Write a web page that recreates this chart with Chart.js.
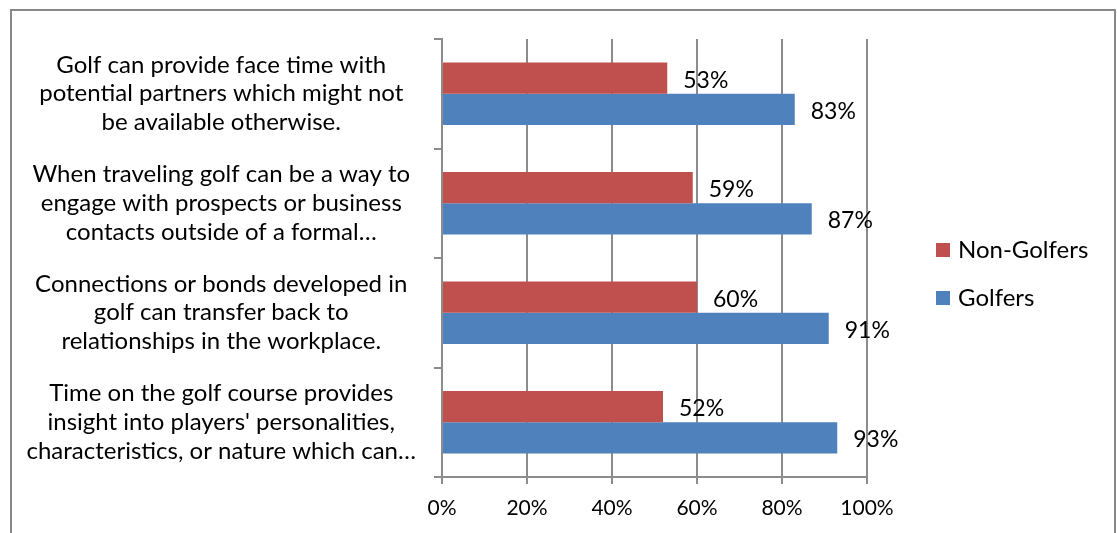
<!DOCTYPE html>
<html>
<head>
<meta charset="utf-8">
<script src="https://cdn.jsdelivr.net/npm/chart.js@4.4.1/dist/chart.umd.min.js"></script>
<style>
  html, body { margin: 0; padding: 0; background: #fff; }
  #wrap { position: relative; width: 1117px; height: 533px; overflow: hidden; }
  #frame { position: absolute; left: 10px; top: 9px; width: 1102px; height: 600px;
           border: 2px solid #888; pointer-events: none; }
</style>
</head>
<body>
<div id="wrap">
  <canvas id="golfChart" width="1117" height="533"></canvas>
  <div id="frame"></div>
</div>
<script>
const categories = [
  ["Golf can provide face time with", "potential partners which might not", "be available otherwise."],
  ["When traveling golf can be a way to", "engage with prospects or business", "contacts outside of a formal\u2026"],
  ["Connections or bonds developed in", "golf can transfer back to", "relationships in the workplace."],
  ["Time on the golf course provides", "insight into players' personalities,", "characteristics, or nature which can\u2026"]
];
const nonGolfers = [53, 59, 60, 52];
const golfers = [83, 87, 91, 93];
const seriesNames = ["Non-Golfers", "Golfers"];

const FONT = "Lato";
const GRID = "#8c8c8c";

// value labels at the end of each bar
const barValues = {
  id: 'barValues',
  afterDatasetsDraw(chart) {
    const { ctx } = chart;
    ctx.save();
    ctx.font = "23px " + FONT;
    ctx.fillStyle = "#000";
    ctx.textAlign = "left";
    ctx.textBaseline = "middle";
    chart.data.datasets.forEach((ds, i) => {
      chart.getDatasetMeta(i).data.forEach((bar, j) => {
        ctx.fillText(ds.data[j] + "%", bar.x + 16, bar.y + 2);
      });
    });
    ctx.restore();
  }
};

// legend on the right, like the Excel one
const sideLegend = {
  id: 'sideLegend',
  afterDraw(chart) {
    const { ctx } = chart;
    ctx.save();
    ctx.font = "24px " + FONT;
    ctx.textAlign = "left";
    ctx.textBaseline = "middle";
    chart.data.datasets.forEach((ds, i) => {
      const y = 250 + i * 48;
      ctx.fillStyle = ds.backgroundColor;
      ctx.fillRect(936, y - 7, 14, 14);
      ctx.fillStyle = "#000";
      ctx.fillText(ds.label, 958, y);
    });
    ctx.restore();
  }
};

new Chart(document.getElementById('golfChart'), {
  type: 'bar',
  data: {
    labels: categories,
    datasets: [
      { label: seriesNames[0], data: nonGolfers, backgroundColor: '#C0504D' },
      { label: seriesNames[1], data: golfers, backgroundColor: '#4F81BD' }
    ]
  },
  options: {
    indexAxis: 'y',
    responsive: false,
    animation: false,
    categoryPercentage: 0.57,
    barPercentage: 1.0,
    layout: { padding: { left: 20, right: 250, top: 39, bottom: 0 } },
    plugins: {
      legend: { display: false },
      tooltip: { enabled: false }
    },
    scales: {
      x: {
        min: 0,
        max: 100,
        ticks: {
          stepSize: 20,
          color: '#000',
          padding: 12,
          font: { family: FONT, size: 21 },
          callback: (v) => v + '%'
        },
        grid: { color: GRID, lineWidth: 2, tickLength: 7 },
        border: { color: GRID, width: 2 },
        afterFit(scale) { scale.height = 56; }
      },
      y: {
        ticks: {
          color: '#000',
          padding: 18,
          crossAlign: 'center',
          font: { family: FONT, size: 24, lineHeight: 1.2 }
        },
        grid: { color: GRID, lineWidth: 2, tickLength: 8, drawOnChartArea: false, offset: true },
        border: { color: GRID, width: 2 },
        afterFit(scale) {
          scale.width = 422;
          // keep the tall labels from pushing the plot area in
          scale.paddingTop = 0;
          scale.paddingBottom = 0;
        }
      }
    }
  },
  plugins: [barValues, sideLegend]
});
</script>
</body>
</html>
